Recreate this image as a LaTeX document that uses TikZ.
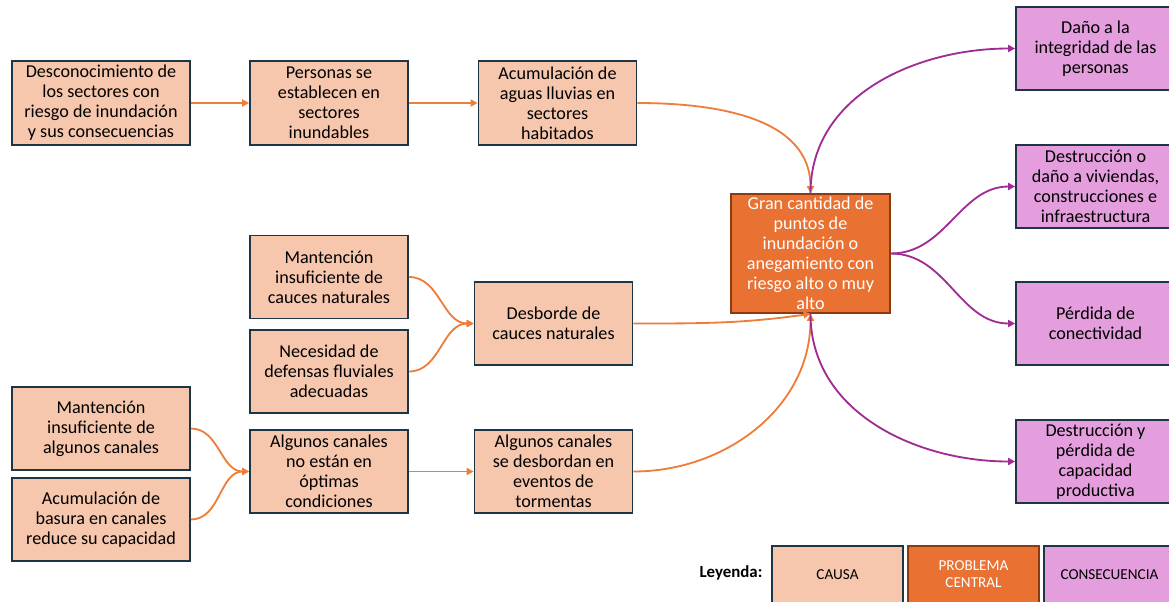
\documentclass[tikz,border=0pt]{standalone}
\usepackage{fontspec}
\setmainfont{Carlito}
\usetikzlibrary{arrows.meta}
\definecolor{colCausa}{HTML}{F6C6AD}
\definecolor{colCentral}{HTML}{E97132}
\definecolor{colConse}{HTML}{E49EDD}
\definecolor{colBorde}{HTML}{1E3546}
\definecolor{colBordeCentral}{HTML}{8A3B12}
\definecolor{colNaranja}{HTML}{EE7D3A}
\definecolor{colMorado}{HTML}{A02B93}
\begin{document}
\begin{tikzpicture}[x=0.25mm, y=-0.25mm,
		caja/.style={draw=colBorde, line width=1.2pt, align=center, inner sep=1pt,
			minimum width=39.5mm, minimum height=20.75mm,
			font=\fontsize{12.9}{14.2}\selectfont},
		causabox/.style={caja, fill=colCausa},
		centralbox/.style={caja, fill=colCentral, draw=colBordeCentral, text=white,
			minimum width=39.75mm, minimum height=29.75mm},
		consebox/.style={caja, fill=colConse, minimum width=39.75mm},
		leyendabox/.style={caja, minimum width=32.75mm, minimum height=14.25mm,
			font=\fontsize{10.8}{12.2}\selectfont},
		naranja/.style={draw=colNaranja, line width=1.3pt, -{Triangle[length=5pt,width=5pt]}},
		morado/.style={draw=colMorado, line width=1.3pt, -{Triangle[length=5pt,width=5pt]}}]
		% coordinates are pixels of the 1169 x 601 page, y grows downwards
		\useasboundingbox (0, 0) rectangle (1169, 601);
		
		% causes, first row
		\node[causabox, minimum width=44.5mm, minimum height=21mm] (desconocimiento) at (101, 103)
			{Desconocimiento de\\los sectores con\\riesgo de inundación\\y sus consecuencias};
		\node[causabox, minimum height=21mm] (personas) at (329, 103)
			{Personas se\\establecen en\\sectores\\inundables};
		\node[causabox, minimum height=21mm] (acumulacion) at (557.5, 103)
			{Acumulación de\\aguas lluvias en\\sectores\\habitados};
		
		% causes, natural channels
		\node[causabox] (mantCauces) at (329, 277)
			{Mantención\\insuficiente de\\cauces naturales};
		\node[causabox] (defensas) at (329, 371.5)
			{Necesidad de\\defensas fluviales\\adecuadas};
		\node[causabox] (desborde) at (553.5, 323.5)
			{Desborde de\\cauces naturales};
		
		% causes, canals
		\node[causabox, minimum width=44.5mm] (mantCanales) at (101, 428.5)
			{Mantención\\insuficiente de\\algunos canales};
		\node[causabox, minimum width=44.5mm] (basura) at (101, 519.5)
			{Acumulación de\\basura en canales\\reduce su capacidad};
		\node[causabox] (canales) at (329, 471.5)
			{Algunos canales\\no están en\\óptimas\\condiciones};
		\node[causabox] (tormentas) at (553.5, 471.5)
			{Algunos canales\\se desbordan en\\eventos de\\tormentas};
		
		% central problem
		\node[centralbox] (problema) at (810.5, 253.5)
			{Gran cantidad de\\puntos de\\inundación o\\anegamiento con\\riesgo alto o muy\\alto};
		
		% consequences
		\node[consebox] (integridad) at (1095.5, 48.5)
			{Daño a la\\integridad de las\\personas};
		\node[consebox] (viviendas) at (1095.5, 186.5)
			{Destrucción o\\daño a viviendas,\\construcciones e\\infraestructura};
		\node[consebox] (conectividad) at (1095.5, 323.5)
			{Pérdida de\\conectividad};
		\node[consebox] (productiva) at (1095.5, 461.5)
			{Destrucción y\\pérdida de\\capacidad\\productiva};
		
		% legend
		\node[font=\fontsize{12}{14}\selectfont\bfseries] (leyenda) at (731, 573) {Leyenda:};
		\node[leyendabox, fill=colCausa] (legCausa) at (837.5, 574.5) {CAUSA};
		\node[leyendabox, fill=colCentral, draw=colBordeCentral, text=white] (legCentral) at (973.5, 574.5)
			{PROBLEMA\\CENTRAL};
		\node[leyendabox, fill=colConse] (legConse) at (1109.5, 574.5) {CONSECUENCIA};
		
		% cause arrows
		\draw[naranja] (desconocimiento) -- (personas);
		\draw[naranja] (personas) -- (acumulacion);
		\draw[naranja] (acumulacion.east) to[out=0, in=90] (problema.north);
		\draw[naranja] (mantCauces.east) to[out=0, in=180] (desborde.west);
		\draw[naranja] (defensas.east) to[out=0, in=180] (desborde.west);
		\draw[naranja] (desborde.east) to[out=0, in=188] (problema.south);
		\draw[naranja] (mantCanales.east) to[out=0, in=180] (canales.west);
		\draw[naranja] (basura.east) to[out=0, in=180] (canales.west);
		\draw[naranja] (canales) -- (tormentas);
		\draw[naranja] (tormentas.east) to[out=0, in=-90] (problema.south);
		
		% consequence arrows
		\draw[morado] (problema.north) to[out=90, in=180] (integridad.west);
		\draw[morado] (problema.east) to[out=0, in=180] (viviendas.west);
		\draw[morado] (problema.east) to[out=0, in=180] (conectividad.west);
		\draw[morado] (problema.south) to[out=-90, in=180] (productiva.west);
	\end{tikzpicture}
\end{document}
